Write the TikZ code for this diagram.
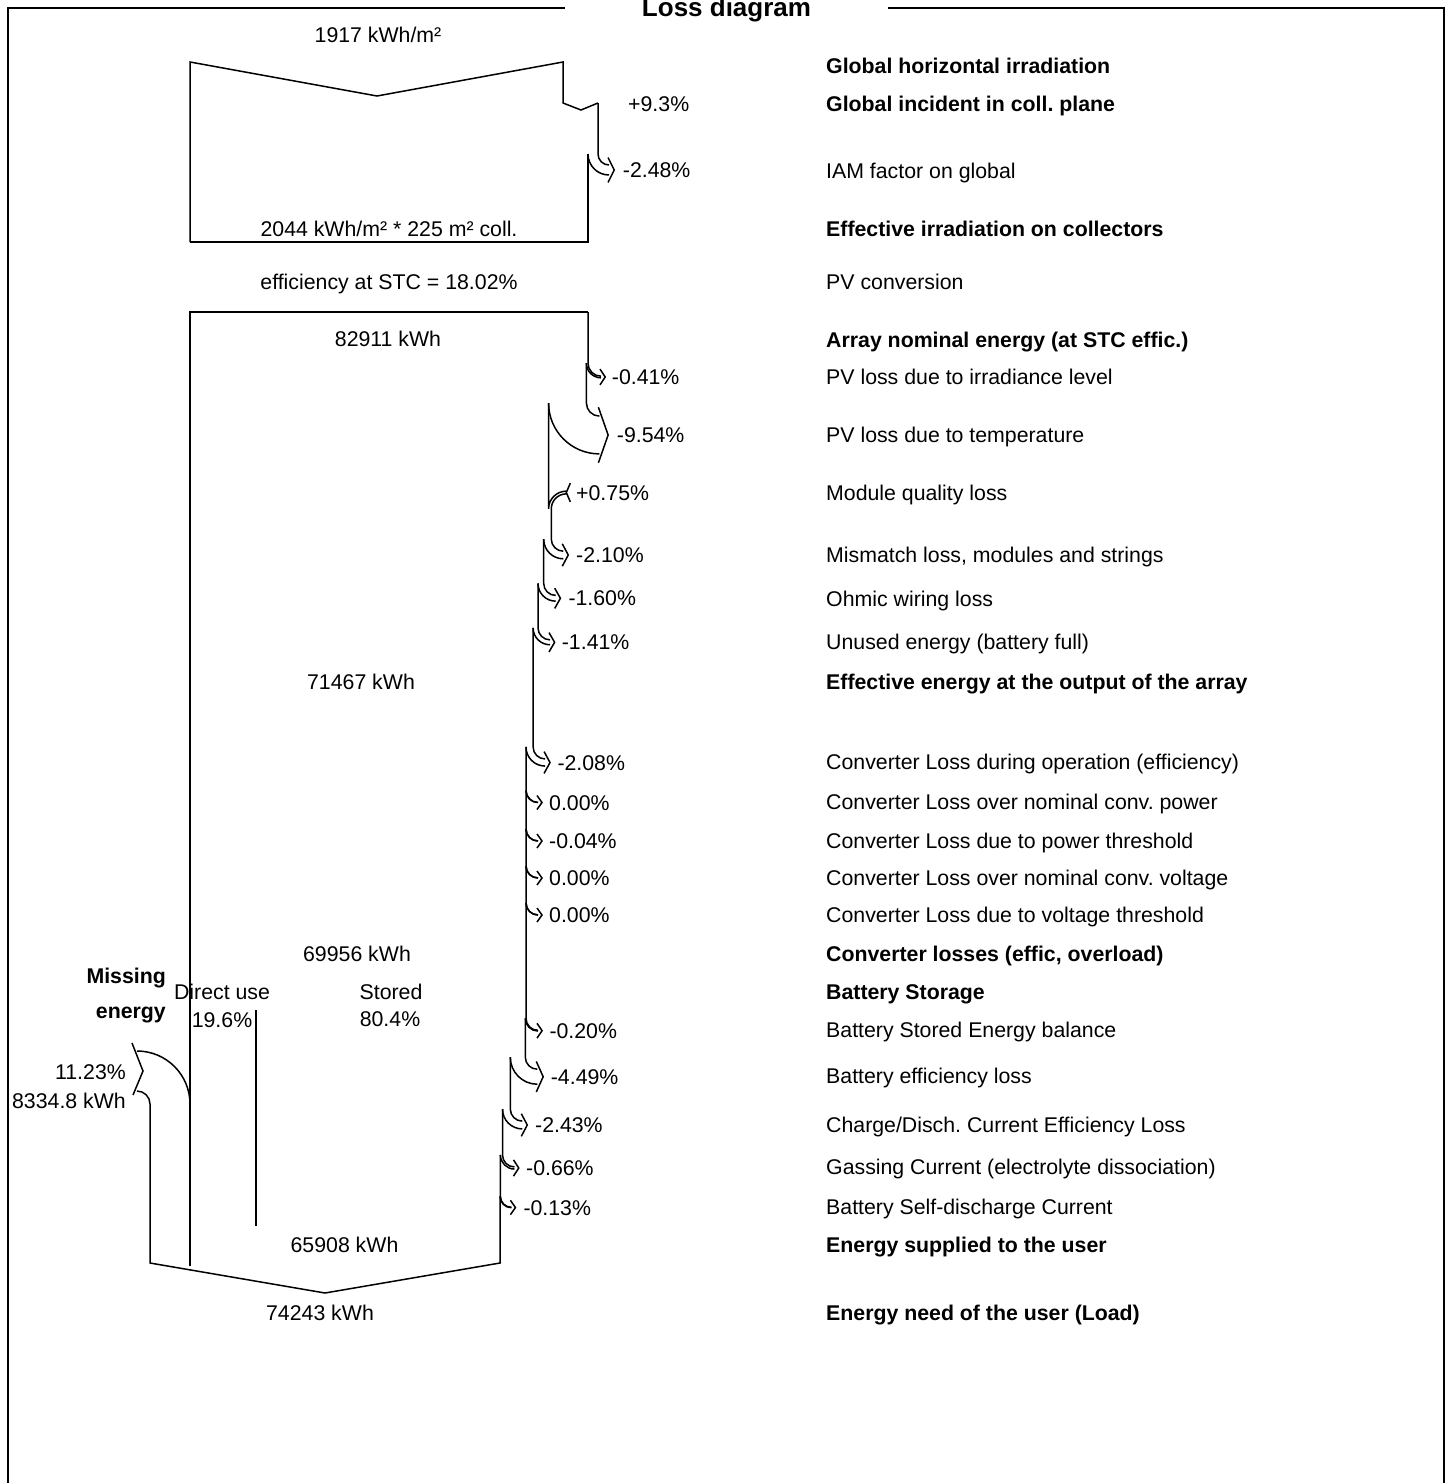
\documentclass[tikz,border=0pt]{standalone}
\usepackage{fontspec}
\setmainfont{Liberation Sans}
\frenchspacing
\tikzset{
 flow/.style={line width=1.5pt, line join=miter},
 frameline/.style={line width=1.8pt},
 txt/.style={font=\fontsize{21.3}{25}\selectfont, inner sep=0pt, yshift=-7.6pt},
 lbl/.style={txt, anchor=base west},
 ctr/.style={txt, anchor=base},
 rgt/.style={txt, anchor=base east},
 bf/.style={font=\fontsize{21.3}{25}\selectfont\bfseries},
}
% loss arrow: #1 x before, #2 x after, #3 y of arrow middle, #4 radius
\newcommand\lossarrow[4]{%
 \pgfmathsetmacro\LAw{#1-#2}%
 \pgfmathsetmacro\LAyt{#3-\LAw/2-#4}%
 \pgfmathsetmacro\LAxe{#1+#4}%
 \pgfmathsetmacro\LAyo{\LAyt+#4}%
 \pgfmathsetmacro\LAyi{\LAyt+#4+\LAw}%
 \pgfmathsetmacro\LAco{0.552*#4}%
 \pgfmathsetmacro\LAci{0.552*(#4+\LAw)}%
 \pgfmathsetmacro\LAh{7+\LAw/20}%
 \pgfmathsetmacro\LAa{4+\LAw/8}%
 \draw[flow] (#1,\prevy) -- (#1,\LAyt) .. controls (#1,\LAyt+\LAco) and (\LAxe-\LAco,\LAyo) .. (\LAxe,\LAyo);
 \draw[flow] (#2,\LAyt) .. controls (#2,\LAyt+\LAci) and (\LAxe-\LAci,\LAyi) .. (\LAxe,\LAyi);
 \draw[flow] (\LAxe-1,\LAyo-\LAh) -- (\LAxe+\LAa,#3) -- (\LAxe-1,\LAyi+\LAh);
 \xdef\prevy{\LAyt}%
}
% gain arrow: #1 x before, #2 x after, #3 y middle, #4 radius
\newcommand\gainarrow[4]{%
 \pgfmathsetmacro\GAw{#2-#1}%
 \pgfmathsetmacro\GAyb{#3+\GAw/2+#4}%
 \pgfmathsetmacro\GAxe{#2+#4}%
 \pgfmathsetmacro\GAco{0.552*(#4+\GAw)}%
 \pgfmathsetmacro\GAci{0.552*#4}%
 \draw[flow] (#1,\prevy) -- (#1,\GAyb) .. controls (#1,\GAyb-\GAco) and (\GAxe-\GAco,#3-\GAw/2) .. (\GAxe,#3-\GAw/2);
 \draw[flow] (#2,\GAyb) .. controls (#2,\GAyb-\GAci) and (\GAxe-\GAci,#3+\GAw/2) .. (\GAxe,#3+\GAw/2);
 \draw[flow] (\GAxe+4,#3-\GAw/2-8) -- (\GAxe,#3) -- (\GAxe+4,#3+\GAw/2+8);
 \xdef\prevy{\GAyb}%
}
\begin{document}
\begin{tikzpicture}[x=1pt,y=-1pt]
\useasboundingbox (0,0) rectangle (1452,1483);
% frame
\draw[frameline] (565,8) -- (8,8) -- (8,1490);
\draw[frameline] (888,8) -- (1444,8) -- (1444,1490);
\node[anchor=base, inner sep=0pt, font=\fontsize{26}{30}\selectfont\bfseries] (title) at (726.5,16.5) {Loss diagram};

% top box: irradiation
\draw[flow] (190,242) -- (190,62) -- (377,96) -- (563,62) -- (563,103) -- (581,110) -- (598,103);
\gdef\prevy{103}
\lossarrow{598}{588}{170}{11}
\draw[flow] (588,\prevy) -- (588,242) -- (190,242);

% main box
\draw[flow] (190,1266) -- (190,312) -- (588,312);
\gdef\prevy{312}
\lossarrow{588}{586.4}{377}{13}
\lossarrow{586.4}{548.6}{435}{13}
\gainarrow{548.6}{551.3}{492.5}{15}
\lossarrow{551.3}{543.7}{555}{12}
\lossarrow{543.7}{538}{598.3}{12}
\lossarrow{538}{533.1}{642.3}{12}
\lossarrow{533.1}{526}{762.5}{12}
\lossarrow{526}{526}{802.5}{12}
\lossarrow{526}{526}{841}{12}
\lossarrow{526}{526}{878}{12}
\lossarrow{526}{526}{915}{12}
\lossarrow{526}{525.3}{1030.7}{12}
\lossarrow{525.3}{510.3}{1076.7}{12}
\lossarrow{510.3}{502.5}{1125}{12}
\lossarrow{502.5}{500.4}{1168}{12}
\lossarrow{500.4}{500}{1207.5}{11}
\draw[flow] (500,\prevy) -- (500,1263) -- (325,1293) -- (150,1263) -- (150,1104);
% split direct use / stored
\draw[flow] (256,1010) -- (256,1226);
% missing energy arrow
\draw[flow] (190,1104) .. controls (190,1074.7) and (166.3,1051) .. (137,1051);
\draw[flow] (150,1104) .. controls (150,1096.8) and (144.2,1091) .. (137,1091);
\draw[flow] (132,1043) -- (143,1071) -- (133,1095);

% left/center values
\node[ctr] (v1) at (378,35) {1917 kWh/m²};
\node[ctr] (v2) at (389,229) {2044 kWh/m² * 225 m² coll.};
\node[ctr] (v3) at (389,282) {efficiency at STC = 18.02\%};
\node[ctr] (v4) at (388,339) {82911 kWh};
\node[ctr] (v5) at (361,682) {71467 kWh};
\node[ctr] (v6) at (357,954) {69956 kWh};
\node[ctr] (v7) at (222,992) {Direct use};
\node[ctr] (v8) at (391,992) {Stored};
\node[ctr] (v9) at (222,1020) {19.6\%};
\node[ctr] (v10) at (390,1019) {80.4\%};
\node[ctr] (v11) at (344.5,1245) {65908 kWh};
\node[ctr] (v12) at (320,1313) {74243 kWh};
\node[rgt,bf] (m1) at (166,976) {Missing};
\node[rgt,bf] (m2) at (166,1010.5) {energy};
\node[rgt] (m3) at (126,1072) {11.23\%};
\node[rgt] (m4) at (126,1101) {8334.8 kWh};

% percentages
\node[lbl] (p1) at (628,104) {+9.3\%};
\node[lbl] (p2) at (622.7,170) {-2.48\%};
\node[lbl] (p3) at (611.7,377) {-0.41\%};
\node[lbl] (p4) at (616.7,435) {-9.54\%};
\node[lbl] (p5) at (576,493) {+0.75\%};
\node[lbl] (p6) at (576,555) {-2.10\%};
\node[lbl] (p7) at (568.3,598.3) {-1.60\%};
\node[lbl] (p8) at (561.7,642.3) {-1.41\%};
\node[lbl] (p9) at (557.3,762.5) {-2.08\%};
\node[lbl] (p10) at (549,802.5) {0.00\%};
\node[lbl] (p11) at (549,841) {-0.04\%};
\node[lbl] (p12) at (549,878) {0.00\%};
\node[lbl] (p13) at (549,915) {0.00\%};
\node[lbl] (p14) at (549.3,1030.7) {-0.20\%};
\node[lbl] (p15) at (550.7,1077) {-4.49\%};
\node[lbl] (p16) at (535,1125) {-2.43\%};
\node[lbl] (p17) at (526,1168) {-0.66\%};
\node[lbl] (p18) at (523.3,1207.7) {-0.13\%};

% right column
\node[lbl,bf] (r1) at (826,66) {Global horizontal irradiation};
\node[lbl,bf] (r2) at (826,104) {Global incident in coll. plane};
\node[lbl] (r3) at (826,171) {IAM factor on global};
\node[lbl,bf] (r4) at (826,229) {Effective irradiation on collectors};
\node[lbl] (r5) at (826,282) {PV conversion};
\node[lbl,bf] (r6) at (826,340) {Array nominal energy (at STC effic.)};
\node[lbl] (r7) at (826,377) {PV loss due to irradiance level};
\node[lbl] (r8) at (826,435) {PV loss due to temperature};
\node[lbl] (r9) at (826,493) {Module quality loss};
\node[lbl] (r10) at (826,555) {Mismatch loss, modules and strings};
\node[lbl] (r11) at (826,599) {Ohmic wiring loss};
\node[lbl] (r12) at (826,642) {Unused energy (battery full)};
\node[lbl,bf] (r13) at (826,682) {Effective energy at the output of the array};
\node[lbl] (r14) at (826,762) {Converter Loss during operation (efficiency)};
\node[lbl] (r15) at (826,802) {Converter Loss over nominal conv. power};
\node[lbl] (r16) at (826,841) {Converter Loss due to power threshold};
\node[lbl] (r17) at (826,878) {Converter Loss over nominal conv. voltage};
\node[lbl] (r18) at (826,915) {Converter Loss due to voltage threshold};
\node[lbl,bf] (r19) at (826,954) {Converter losses (effic, overload)};
\node[lbl,bf] (r20) at (826,992) {Battery Storage};
\node[lbl] (r21) at (826,1030) {Battery Stored Energy balance};
\node[lbl] (r22) at (826,1076) {Battery efficiency loss};
\node[lbl] (r23) at (826,1125) {Charge/Disch. Current Efficiency Loss};
\node[lbl] (r24) at (826,1167) {Gassing Current (electrolyte dissociation)};
\node[lbl] (r25) at (826,1207) {Battery Self-discharge Current};
\node[lbl,bf] (r26) at (826,1245) {Energy supplied to the user};
\node[lbl,bf] (r27) at (826,1313) {Energy need of the user (Load)};
\end{tikzpicture}
\end{document}
